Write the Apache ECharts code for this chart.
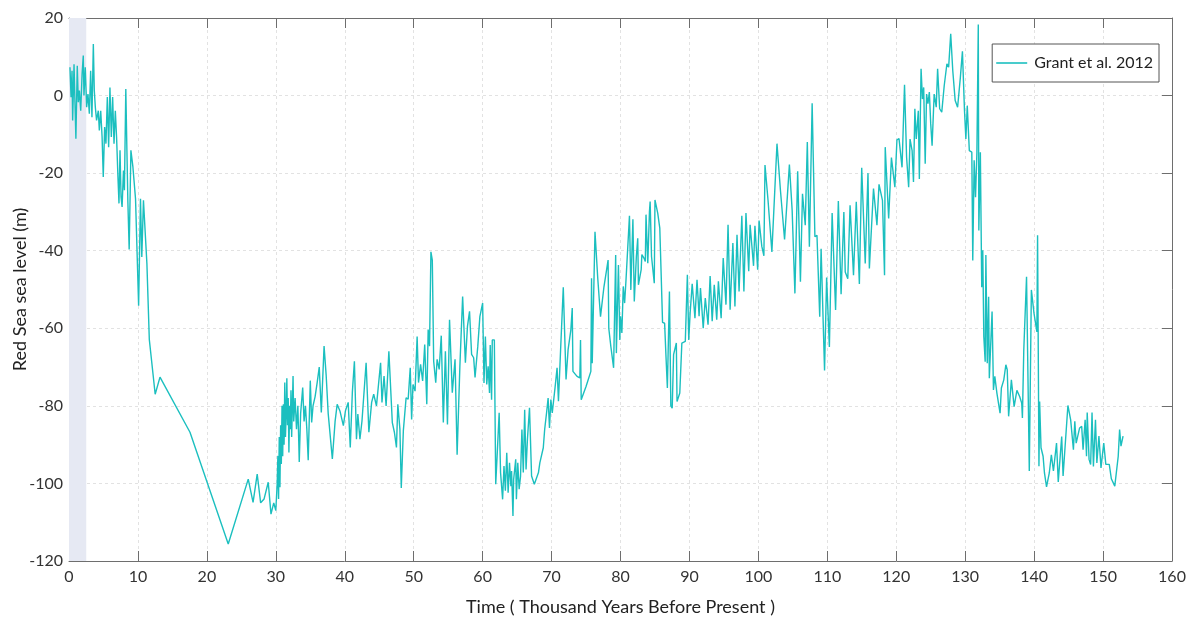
<!DOCTYPE html>
<html>
<head>
<meta charset="utf-8">
<script src="https://cdn.jsdelivr.net/npm/echarts@6/dist/echarts.min.js"></script>
<style>html,body{margin:0;padding:0;background:#fff;}#chart{width:1192px;height:628px;}</style>
</head>
<body>
<div id="chart"></div>
<script>
// Age (thousand years before present)
const ageKyr = [
0.14,0.3,0.44,0.53,0.73,0.87,1.0,1.2,1.35,1.5,1.7,1.9,2.07,2.17,2.36,2.56,2.75,2.95,3.14,3.33,3.53,3.67,3.82,4.0,4.25,4.4,4.6,4.8,4.97,5.17,5.36,5.56,5.75,5.94,6.14,6.33,6.53,6.72,6.9,7.1,7.25,7.4,7.55,7.7,7.9,8.04,8.24,8.4,8.54,8.73,8.98,9.27,9.65,9.94,10.1,10.37,10.56,10.8,11.3,11.65,12.5,13.2,17.55,23.1,26,26.7,27.3,27.8,28.3,28.9,29.3,29.7,
30.0,30.2,30.3,30.4,30.5,30.6,30.7,30.8,30.9,31.0,31.1,31.2,31.3,31.4,31.5,31.6,31.7,31.8,31.9,32.0,32.1,32.2,32.3,32.5,32.6,32.8,33.0,33.2,33.4,33.6,33.9,34.1,34.3,34.5,34.7,35.0,35.2,35.4,35.7,36.0,36.3,36.6,37.0,37.3,37.6,38.2,38.6,38.9,
39.3,39.8,40.1,40.5,40.8,41.1,41.4,41.7,41.9,42.2,42.5,42.7,43.1,43.5,43.9,44.2,44.6,45.2,45.4,45.7,46.0,46.4,46.9,47.2,47.5,47.7,48.0,48.2,48.5,48.9,49.2,49.5,49.7,49.9,50.2,50.5,50.7,51.0,51.3,51.6,51.9,52.1,52.3,52.5,52.7,52.9,53.2,53.4,53.7,54.0,54.3,54.6,54.9,55.2,55.6,56.0,56.3,56.7,57.1,57.5,57.8,58.1,58.4,58.7,58.9,59.3,59.6,
60.0,60.2,60.4,60.6,60.8,61.0,61.1,61.3,61.4,61.7,61.9,62.1,62.4,62.6,62.9,63.1,63.3,63.5,63.7,63.9,64.1,64.2,64.4,64.5,64.8,64.9,65.1,65.3,65.5,65.7,65.9,66.1,66.3,66.5,66.8,67.1,67.5,68.1,68.3,68.8,69.0,69.3,69.5,69.7,69.9,70.1,70.5,70.8,71.0,71.3,71.7,72.1,72.4,72.8,73.0,73.1,73.7,74.1,74.2,74.3,75.0,75.7,75.8,75.9,76.3,76.7,77.1,77.6,78.2,78.3,78.6,79.0,79.3,79.4,79.7,79.9,
80.0,80.2,80.4,80.6,80.8,81.0,81.3,81.5,81.8,82.0,82.3,82.5,82.6,83.0,83.1,83.4,83.6,83.7,83.96,84.2,84.3,84.5,84.9,85.0,85.4,85.7,85.9,86.1,86.4,86.6,86.8,87.1,87.3,87.5,87.7,88.1,88.2,88.6,88.9,89.4,89.7,89.9,90.1,90.4,90.8,91.1,91.4,91.6,92.0,92.3,92.7,93.0,93.3,93.6,93.96,94.2,94.6,94.9,95.3,95.6,95.9,96.3,96.6,96.9,97.2,97.6,97.9,98.2,98.6,98.8,99.3,99.5,99.9,100.1,100.5,100.8,100.96,
101.4,101.96,102.7,103.2,103.8,104.5,104.9,105.3,105.7,106.1,106.4,106.8,107.1,107.4,107.8,108.2,108.5,108.9,109.1,109.6,109.9,110.3,110.7,111.2,111.6,112.0,112.4,112.6,112.97,113.3,113.8,114.2,114.65,114.99,115.5,115.9,116.1,116.7,117.2,117.5,118.0,118.3,118.4,118.9,119.3,119.8,120.1,120.4,
120.84,121.2,121.5,121.8,122.0,122.3,122.5,122.7,122.9,123.2,123.35,123.6,123.8,123.98,124.2,124.4,124.6,124.8,125.0,125.2,125.5,125.8,126.0,126.3,126.6,126.96,127.35,127.6,127.9,128.2,128.55,128.9,129.3,129.6,129.9,130.1,130.3,130.6,130.96,131.1,131.3,131.5,131.7,131.9,131.98,132.2,132.4,132.55,132.7,132.9,133.0,133.2,133.4,133.5,133.7,133.9,134.1,134.3,134.6,134.8,135.06,135.25,135.6,135.9,136.1,136.3,136.7,137.1,137.5,137.9,138.2,138.3,138.5,138.9,139.3,139.6,139.98,140.4,140.5,140.7,140.8,141.0,141.3,141.5,141.8,142.2,142.5,142.8,143.25,143.5,144.0,144.2,144.9,145.3,145.7,145.9,146.1,146.6,146.9,147.1,147.4,147.6,147.7,147.97,148.2,148.4,148.6,148.9,149.1,149.4,149.7,150.1,150.4,150.9,151.2,151.7,152.2,152.4,152.6,152.9
];
// Red Sea relative sea level (m)
const seaLevel = [
7.3,-0.4,6.4,-6.4,8.1,-2.1,-11.1,7.7,-1.7,1.3,-3.9,5.6,10.3,0,7.3,-3,0.4,-4.7,6.4,-5.6,13.3,1.3,-3,-6.4,-3.9,-9,-3.9,-10.7,-21,-8.1,-12.4,-0.4,-13.3,2.1,-10.7,-0.4,-12.4,-3.9,-10.7,-21,-27.8,-14.1,-26.1,-28.7,-19.3,-24.4,1.7,-14.1,-27.4,-39.7,-14.1,-18.4,-26.6,-26.6,-54.2,-26.6,-41.6,-27,-43.3,-62.9,-77,-72.6,-86.8,-115.6,-98.9,-104.9,-97.6,-105,-104,-99.7,-107.9,-105,
-107,-100,-92.9,-104,-88,-101,-85,-95,-80,-93,-79.6,-90,-74,-88,-82,-72.9,-85,-78,-92,-80,-86,-76,-88,-72.3,-84,-78,-86,-80,-94.5,-82,-75.3,-84,-80,-86,-94,-73.5,-84.3,-80,-77.6,-74,-70,-81.7,-64.6,-72,-82,-93.7,-84,-79.6,
-81.3,-85.1,-81.3,-79.1,-90.7,-76.6,-68.5,-88.6,-82.1,-88.6,-83.9,-83.9,-68.9,-86.8,-79.1,-77,-80,-68.9,-79.1,-72.3,-80,-65.9,-84.3,-86.8,-90.7,-79.6,-86,-101.2,-86.4,-77.9,-78.3,-70.2,-83.5,-74.5,-76.2,-62.1,-74,-69.3,-73.6,-64.2,-79.6,-60.3,-64.6,-40.3,-42.4,-68.5,-74,-68,-70.6,-61.9,-84.3,-65.9,-84.8,-57.8,-76.6,-68,-92.6,-69.8,-51.8,-68.9,-59.5,-55.6,-66.7,-67.6,-72.7,-64.6,-57,
-53.5,-74.1,-62.1,-74.5,-69.8,-76.7,-64.3,-78.4,-63,-63,-100.2,-93,-81.8,-97.2,-104.1,-95.5,-101.9,-92.1,-102.4,-94.7,-100.7,-96.8,-108.4,-99,-93.8,-104.1,-94.7,-101.5,-98.1,-86.1,-97.2,-81,-96.4,-88.6,-80.5,-98.1,-100.2,-97.2,-94.7,-90.8,-86.1,-81.4,-78,-85.7,-78.4,-81.8,-75.4,-70.2,-78.8,-66,-49.4,-73.2,-65.5,-60.4,-54.8,-71.1,-72.4,-72.8,-63,-78.4,-75,-71.1,-47.1,-69,-35.1,-47.1,-57,-49.3,-42.4,-60,-64.7,-70.2,-41.1,-66.4,-43.7,-63,
-56.9,-61.2,-49.2,-53.5,-47.5,-47.9,-31,-50.1,-31.9,-53.1,-41.5,-36.8,-48.8,-44.9,-41,-41.9,-42.8,-30.7,-43.2,-29.9,-27.3,-41.5,-48.4,-26.9,-30.3,-34.2,-46.2,-58.5,-58.7,-67.3,-75.4,-50.5,-80,-80.6,-66.8,-63.8,-78.9,-76.7,-63.8,-63.4,-46.2,-63,-56.1,-48.5,-57.4,-47.5,-56.9,-49.6,-60,-52.2,-59.1,-46.5,-58.2,-48.8,-57.8,-47.9,-57.4,-41.9,-53.9,-33.3,-55.2,-38,-54.4,-35.9,-50.5,-31,-50.5,-30.3,-45.3,-33.3,-43.9,-33.6,-44.9,-32.2,-38.9,-41.3,-17.9,
-27,-40.3,-12.4,-24.4,-37.1,-17.8,-29.6,-51,-19.5,-48,-25.3,-33.4,-12,-39,-2,-36.4,-36,-57,-39.5,-70.9,-46.9,-64.8,-30.3,-55.3,-27.2,-51.2,-30,-45.5,-47.2,-28.3,-46.3,-27.4,-48.6,-18.6,-43.3,-20,-44.6,-24,-33.4,-22.9,-27,-46.3,-13.3,-31.7,-16,-23.6,-11.4,-11.1,
-18.5,2.8,-15.9,-23.6,-11.2,-14.2,-22.3,-3.4,-11.2,-3.9,-21.5,6.9,-0.9,2.1,-17.6,0.4,-2.1,0.9,-7.3,-12.9,0.4,-3,6.9,-3.4,-4.3,2.6,8.2,7.3,15.9,6.4,-1.3,-3,4.7,11.4,-3.9,-11.2,-2.6,-14.2,-14.6,-42.5,-16.7,-26.2,-14.6,18.3,-34.8,-14.6,-49.4,-39.9,-62.1,-68.6,-41.1,-69,-51.9,-72.9,-72.9,-55.7,-75.9,-72.4,-76.7,-76.3,-81.9,-75.4,-73.3,-69.4,-70.7,-82.7,-73.3,-80.2,-76,-77.6,-79.3,-83.1,-65.6,-46.7,-96.8,-50.1,-56.1,-60.9,-36,-95.6,-78.9,-90.8,-93,-97.3,-100.9,-97.3,-92.6,-96.8,-89.6,-99.6,-87.9,-98.1,-79.9,-83.6,-91.3,-84,-89.6,-85.7,-85.3,-91.3,-83.6,-93,-81.7,-93.8,-95.1,-81.7,-95.6,-83.6,-94.7,-87.8,-96,-89.6,-95.1,-95.1,-98.8,-100.7,-93,-86.1,-90.4,-87.8
];
const xTicks = [0,10,20,30,40,50,60,70,80,90,100,110,120,130,140,150,160];
const yTicks = [-120,-100,-80,-60,-40,-20,0,20];
const shadedBand = [0, 2.5];
const seriesName = 'Grant et al. 2012';

const FONT = 'Lato';
const axisColor = '#6e6e6e';
const pts = ageKyr.map((a, i) => [a, seaLevel[i]]);

const chart = echarts.init(document.getElementById('chart'), null, {renderer: 'canvas'});
const baseX = {
  type: 'value', min: xTicks[0], max: xTicks[xTicks.length-1], interval: 10,
  axisLine: {show: true, onZero: false, lineStyle: {color: axisColor, width: 1}},
  axisTick: {show: true, inside: true, length: 10, lineStyle: {color: axisColor}},
};
const baseY = {
  type: 'value', min: yTicks[0], max: yTicks[yTicks.length-1], interval: 20,
  axisLine: {show: true, onZero: false, lineStyle: {color: axisColor, width: 1}},
  axisTick: {show: true, inside: true, length: 10, lineStyle: {color: axisColor}},
};
chart.setOption({
  animation: false,
  backgroundColor: '#fff',
  textStyle: {fontFamily: FONT},
  grid: {left: 69, right: 20, top: 18, bottom: 67, containLabel: false, outerBoundsMode: 'none'},
  legend: {
    data: [{name: seriesName, icon: 'rect'}], right: 33, top: 44,
    itemWidth: 31, itemHeight: 1.6, itemGap: 4,
    padding: [11, 6, 11, 4],
    borderColor: '#555', borderWidth: 1, backgroundColor: '#fff',
    textStyle: {fontFamily: FONT, fontSize: 16, color: '#222', padding: [0, 0, 0, 2]}
  },
  xAxis: [
    Object.assign({}, baseX, {
      position: 'bottom',
      name: 'Time ( Thousand Years Before Present )', nameLocation: 'middle', nameGap: 37,
      nameMoveOverlap: false,
      nameTextStyle: {fontFamily: FONT, fontSize: 18, color: '#222'},
      axisLabel: {fontFamily: FONT, fontSize: 16, color: '#333', margin: 8},
      splitLine: {show: true, lineStyle: {color: '#e2e2e2', type: [3, 3], width: 1}}
    }),
    Object.assign({}, baseX, {position: 'top', axisLabel: {show: false}, splitLine: {show: false}})
  ],
  yAxis: [
    Object.assign({}, baseY, {
      position: 'left',
      name: 'Red Sea sea level (m)', nameLocation: 'middle', nameGap: 40,
      nameMoveOverlap: false,
      nameTextStyle: {fontFamily: FONT, fontSize: 18, color: '#222'},
      axisLabel: {fontFamily: FONT, fontSize: 16, color: '#333', margin: 6},
      splitLine: {show: true, lineStyle: {color: '#e2e2e2', type: [3, 3], width: 1}}
    }),
    Object.assign({}, baseY, {position: 'right', axisLabel: {show: false}, splitLine: {show: false}})
  ],
  series: [
    {
      name: 'band', type: 'line', data: [], z: 1, silent: true,
      markArea: {silent: true, itemStyle: {color: '#e6e9f3'},
        data: [[{xAxis: shadedBand[0]}, {xAxis: shadedBand[1]}]]}
    },
    {
      name: seriesName, type: 'line', data: pts, z: 3,
      symbol: 'none', showSymbol: false,
      lineStyle: {color: '#1bbfbf', width: 1.4},
      itemStyle: {color: '#1bbfbf'}
    }
  ]
});
</script>
</body>
</html>
